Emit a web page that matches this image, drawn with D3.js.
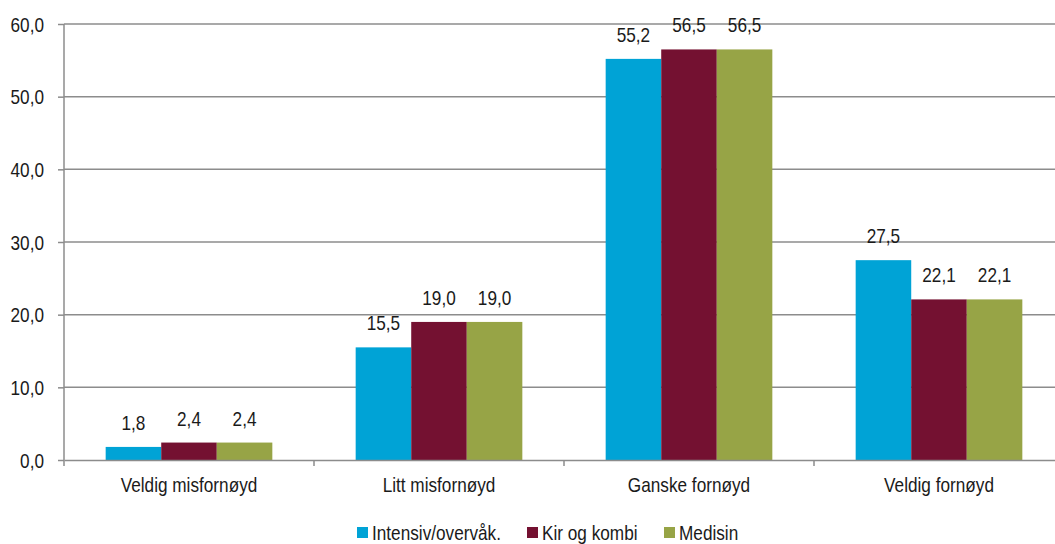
<!DOCTYPE html>
<html><head><meta charset="utf-8">
<script src="https://cdn.jsdelivr.net/npm/d3@7"></script>
<style>body{margin:0;background:#fff}svg{display:block}text{font-family:"Liberation Sans",Arial,sans-serif;fill:#1a1a1a}</style>
</head><body><svg id="c" width="1055" height="544"></svg>
<script>
const categories = ["Veldig misfornøyd","Litt misfornøyd","Ganske fornøyd","Veldig fornøyd"];
const seriesNames = ["Intensiv/overvåk.","Kir og kombi","Medisin"];
const intensiv = [1.8,15.5,55.2,27.5];
const kirKombi = [2.4,19.0,56.5,22.1];
const medisin = [2.4,19.0,56.5,22.1];
const yTicks = [0,10,20,30,40,50,60];
const colors = ["#00A3D6","#741131","#97A446"];
const seriesValues = [intensiv,kirKombi,medisin];

const SX = 0.86, FS = 20;
const svg = d3.select("#c");
const x0 = d3.scaleBand().domain(categories).range([64,1064]).paddingInner(0).paddingOuter(0);
const x1 = d3.scaleBand().domain(seriesNames).range([0,x0.bandwidth()]).paddingInner(0).paddingOuter(0.75);
const y = d3.scaleLinear().domain([0,60]).range([460,24]);
const fmt = v => d3.format(".1f")(v).replace(".",",");
function narrowText(sel, x, yy){
  sel.attr("x",0).attr("y",0).attr("dy",null)
     .attr("transform",(d,i)=>`translate(${typeof x==="function"?x(d,i):x},${typeof yy==="function"?yy(d,i):yy}) scale(${SX},1)`)
     .attr("font-size",FS).attr("font-family","Liberation Sans").attr("fill","#1a1a1a");
}

// gridlines
svg.append("g").selectAll("line").data(yTicks.filter(d=>d>0)).join("line")
  .attr("x1",64).attr("x2",1064).attr("y1",d=>y(d)).attr("y2",d=>y(d))
  .attr("stroke","#8c8c8c").attr("stroke-width",1.5);

// bars
const g = svg.append("g");
seriesNames.forEach((s,i)=>{
  g.append("g").selectAll("rect").data(categories).join("rect")
    .attr("x",c=>x0(c)+x1(s)).attr("width",x1.bandwidth())
    .attr("y",(c,j)=>y(seriesValues[i][j])).attr("height",(c,j)=>460-y(seriesValues[i][j]))
    .attr("fill",colors[i]);
  g.append("g").selectAll("text").data(categories).join("text")
    .attr("text-anchor","middle").text((c,j)=>fmt(seriesValues[i][j]))
    .call(narrowText, c=>x0(c)+x1(s)+x1.bandwidth()/2, (c,j)=>y(seriesValues[i][j])-17);
});

// y axis
const ya = svg.append("g").attr("transform","translate(64,0)")
  .call(d3.axisLeft(y).tickValues(yTicks).tickSize(6).tickFormat(fmt));
ya.select(".domain").attr("stroke","#8c8c8c").attr("stroke-width",1.5).attr("d","M0,24V460");
ya.selectAll(".tick line").attr("stroke","#8c8c8c").attr("stroke-width",1.5);
ya.selectAll(".tick text").attr("text-anchor","end").call(narrowText,-20,7);

// x axis
const xa = svg.append("g").attr("transform","translate(0,460)")
  .call(d3.axisBottom(x0).tickSize(0));
xa.select(".domain").attr("stroke","#8c8c8c").attr("stroke-width",1.5);
xa.selectAll(".tick text").attr("text-anchor","middle").call(narrowText,0,32);
svg.append("g").selectAll("line").data(categories).join("line")
  .attr("x1",c=>x0(c)).attr("x2",c=>x0(c)).attr("y1",460).attr("y2",466)
  .attr("stroke","#8c8c8c").attr("stroke-width",1.5);

// legend
const legX = [357,527,664];
const leg = svg.append("g");
seriesNames.forEach((s,i)=>{
  leg.append("rect").attr("x",legX[i]).attr("y",527).attr("width",11).attr("height",11).attr("fill",colors[i]);
  leg.append("text").attr("text-anchor","start").text(s).call(narrowText, legX[i]+15, 539.5);
});
</script></body></html>
